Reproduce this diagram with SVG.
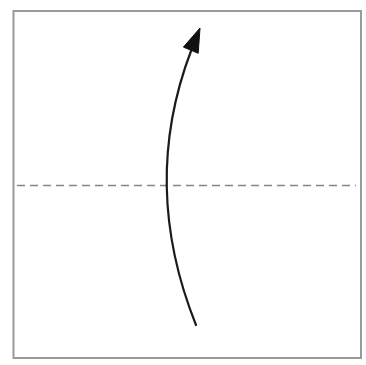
<svg xmlns="http://www.w3.org/2000/svg" width="366" height="365" viewBox="0 0 366 365">
<style>
.frame{fill:#fff;stroke:#9a9a9a;stroke-width:2}
.fold{fill:none;stroke:#8c8282;stroke-width:1.6;stroke-dasharray:8 5}
.arrow{fill:none;stroke:#1a1a1a;stroke-width:2.2;stroke-linecap:round}
.head{fill:#111;stroke:#111;stroke-width:1;stroke-linejoin:round}
</style>
<rect width="366" height="365" fill="#fff"/>
<g id="paper">
<rect class="frame" x="13.5" y="11" width="347.5" height="347"/>
<line class="fold" x1="17" y1="185.5" x2="356" y2="185.5"/>
</g>
<g id="connectors">
<path class="arrow" d="M196,325 Q140,185 191,51"/>
<polygon class="head" points="200,28 198.2,53.3 183.4,47.1"/>
</g>
</svg>
